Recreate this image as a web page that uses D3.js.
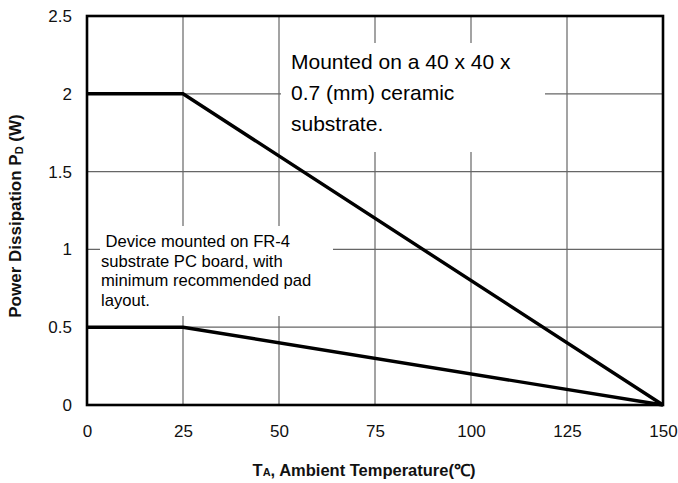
<!DOCTYPE html>
<html>
<head>
<meta charset="utf-8">
<script src="https://cdn.jsdelivr.net/npm/d3@7"></script>
<style>
html,body{margin:0;padding:0;background:#fff;}
svg{display:block;font-family:"Liberation Sans",Arial,sans-serif;}
</style>
</head>
<body>
<svg id="chart" width="678" height="483"></svg>
<script>
const xTicks = [0, 25, 50, 75, 100, 125, 150];
const yTicks = [0, 0.5, 1, 1.5, 2, 2.5];
const yTickLabels = ["0", "0.5", "1", "1.5", "2", "2.5"];
const ceramicTemp = [0, 25, 150];
const ceramicPower = [2, 2, 0];
const fr4Temp = [0, 25, 150];
const fr4Power = [0.5, 0.5, 0];
const ceramicNote = ["Mounted on a 40 x 40 x", "0.7 (mm) ceramic", "substrate."];
const fr4Note = [" Device mounted on FR-4", "substrate PC board, with", "minimum recommended pad", "layout."];

const svg = d3.select("#chart");
const L = 87, R = 663, T = 16, B = 405;
const x = d3.scaleLinear().domain([0, 150]).range([L, R]);
const y = d3.scaleLinear().domain([0, 2.5]).range([B, T]);

// grid
const g = svg.append("g");
g.selectAll("line.vx").data(xTicks.slice(1, -1)).enter().append("line")
  .attr("x1", d => x(d)).attr("x2", d => x(d)).attr("y1", T).attr("y2", B)
  .attr("stroke", "#666").attr("stroke-width", 1.2);
g.selectAll("line.hy").data(yTicks.slice(1, -1)).enter().append("line")
  .attr("x1", L).attr("x2", R).attr("y1", d => y(d)).attr("y2", d => y(d))
  .attr("stroke", "#666").attr("stroke-width", 1.2);

// note boxes (white, cover grid)
svg.append("rect").attr("x", 281).attr("y", 43).attr("width", 264).attr("height", 109).attr("fill", "#fff");
svg.append("rect").attr("x", 100).attr("y", 226).attr("width", 233).attr("height", 90).attr("fill", "#fff");

const t1 = svg.append("text").attr("font-size", 21).attr("fill", "#000");
ceramicNote.forEach((s, i) => t1.append("tspan").attr("x", 291).attr("y", 69 + i * 31).text(s));
const t2 = svg.append("text").attr("font-size", 16.6).attr("fill", "#000").attr("xml:space", "preserve").style("white-space", "pre");
fr4Note.forEach((s, i) => t2.append("tspan").attr("x", 101).attr("y", 247 + i * 19.5).text(s));

// data lines
const line = d3.line().x(d => x(d[0])).y(d => y(d[1]));
svg.append("path").datum(ceramicTemp.map((t, i) => [t, ceramicPower[i]]))
  .attr("d", line).attr("fill", "none").attr("stroke", "#000").attr("stroke-width", 3.4);
svg.append("path").datum(fr4Temp.map((t, i) => [t, fr4Power[i]]))
  .attr("d", line).attr("fill", "none").attr("stroke", "#000").attr("stroke-width", 3.4);

// frame
svg.append("rect").attr("x", L).attr("y", T).attr("width", R - L).attr("height", B - T)
  .attr("fill", "none").attr("stroke", "#000").attr("stroke-width", 2.6);

// axes tick labels via d3 axes (no lines)
const xAxis = svg.append("g").attr("transform", `translate(0,${B})`)
  .call(d3.axisBottom(x).tickValues(xTicks).tickSize(0).tickPadding(20).tickFormat(d3.format("d")));
xAxis.select(".domain").remove();
xAxis.selectAll("text").attr("font-size", 17).attr("font-family", "Liberation Sans, Arial, sans-serif").attr("fill", "#111");

const yAxis = svg.append("g").attr("transform", `translate(${L},0)`)
  .call(d3.axisLeft(y).tickValues(yTicks).tickSize(0).tickPadding(15).tickFormat((d, i) => yTickLabels[i]));
yAxis.select(".domain").remove();
yAxis.selectAll("text").attr("font-size", 17).attr("font-family", "Liberation Sans, Arial, sans-serif").attr("fill", "#111");

// axis titles
const xt = svg.append("text").attr("x", 364).attr("y", 476).attr("text-anchor", "middle")
  .attr("font-size", 16.5).attr("font-weight", "bold").attr("fill", "#111");
xt.append("tspan").text("T");
xt.append("tspan").attr("font-size", 11).text("A");
xt.append("tspan").text(", Ambient Temperature(℃)");

const yt = svg.append("text").attr("transform", "translate(20.5,216) rotate(-90)").attr("text-anchor", "middle")
  .attr("font-size", 17).attr("font-weight", "bold").attr("fill", "#111");
yt.append("tspan").text("Power Dissipation P");
yt.append("tspan").attr("font-size", 11).attr("dy", 2).text("D");
yt.append("tspan").attr("dy", -2).text(" (W)");
</script>
</body>
</html>
